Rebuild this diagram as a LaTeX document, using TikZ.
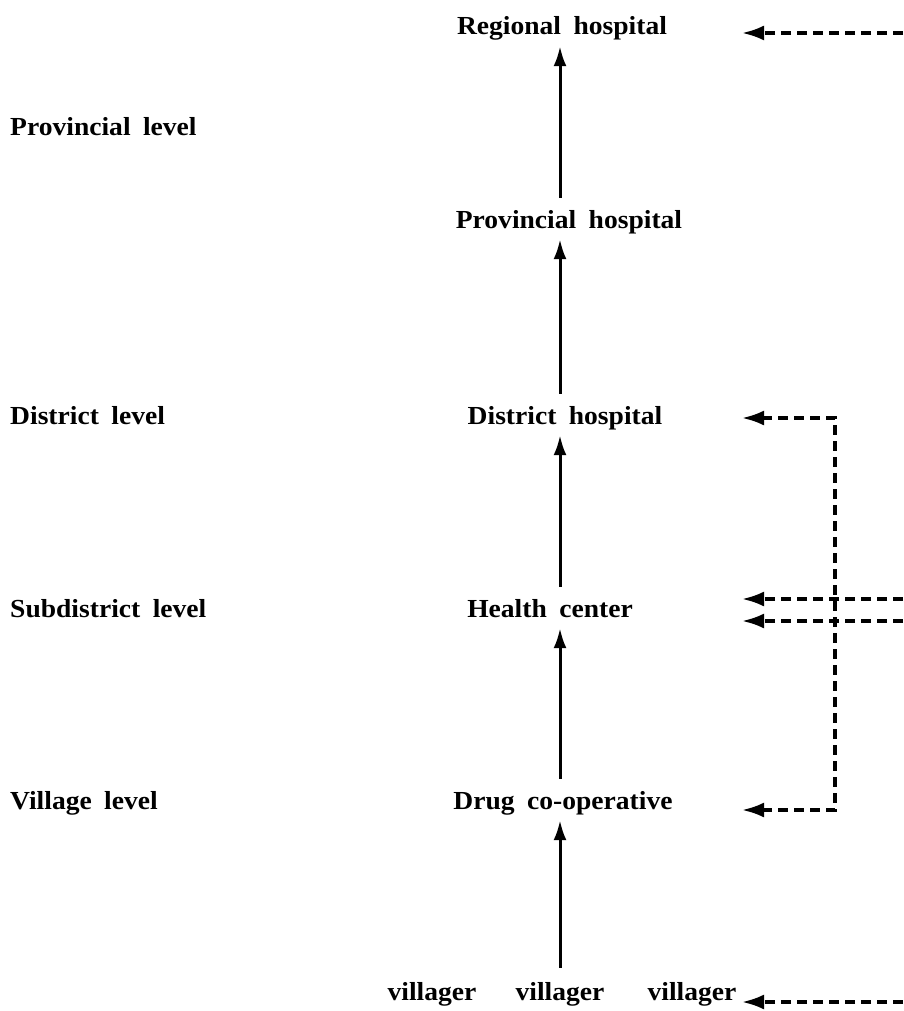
\documentclass[tikz,border=0pt]{standalone}
\usepackage{fontspec}
\setmainfont{Liberation Serif}[FakeStretch=1.06,WordSpace=1.8]
\usetikzlibrary{arrows.meta}
\begin{document}
\begin{tikzpicture}[x=1pt,y=-1pt,
  lbl/.style={anchor=base west,inner sep=0pt,font=\fontsize{26}{30}\selectfont\bfseries},
  unit/.style={anchor=base,inner sep=4pt,text height=18pt,text depth=7pt,font=\fontsize{26}{30}\selectfont\bfseries},
  up/.style={-{Latex[length=20pt,width=13pt]},line width=3pt,shorten <=8pt},
  feed/.style={-{Latex[length=22pt,width=15pt]},line width=3.2pt,dash pattern=on 10pt off 6pt},
  loop/.style={feed,{Latex[length=22pt,width=15pt]}-{Latex[length=22pt,width=15pt]}}]
\useasboundingbox (0,0) rectangle (903,1011);
\coordinate (spine) at (560,0);
\coordinate (tipcol) at (742,0);

% levels
\node[lbl] (lprov) at (10,136) {Provincial level};
\node[lbl] (ldist) at (10,424) {District level};
\node[lbl] (lsub) at (10,617) {Subdistrict level};
\node[lbl] (lvil) at (10,809) {Village level};

% referral chain
\node[unit] (reg) at (562,35) {Regional hospital};
\node[unit] (prov) at (569,228) {Provincial hospital};
\node[unit] (dist) at (565,424) {District hospital};
\node[unit] (hc) at (550,617) {Health center};
\node[unit] (drug) at (563,809) {Drug co-operative};
\node[unit] (vil1) at (432,1000) {villager};
\node[unit] (vil2) at (560,1000) {villager};
\node[unit] (vil3) at (692,1000) {villager};

\draw[up] (prov.north -| spine) -- (reg.south -| spine);
\draw[up] (dist.north -| spine) -- (prov.south -| spine);
\draw[up] (hc.north -| spine) -- (dist.south -| spine);
\draw[up] (drug.north -| spine) -- (hc.south -| spine);
\draw[up,shorten <=10pt] (vil2.north) -- (drug.south -| spine);

% supply lines
\coordinate (inreg) at (903,33);
\coordinate (inhc1) at (903,599);
\coordinate (inhc2) at (903,621);
\coordinate (invil) at (903,1002);
\coordinate (kdist) at (835,418);
\coordinate (kdrug) at (835,810);

\draw[feed] (inreg) -- (inreg -| tipcol);
\draw[loop] (kdist -| tipcol) -- (kdist) -- (kdrug) -- (kdrug -| tipcol);
\draw[feed] (inhc1) -- (inhc1 -| tipcol);
\draw[feed] (inhc2) -- (inhc2 -| tipcol);
\draw[feed] (invil) -- (invil -| tipcol);

\end{tikzpicture}
\end{document}
